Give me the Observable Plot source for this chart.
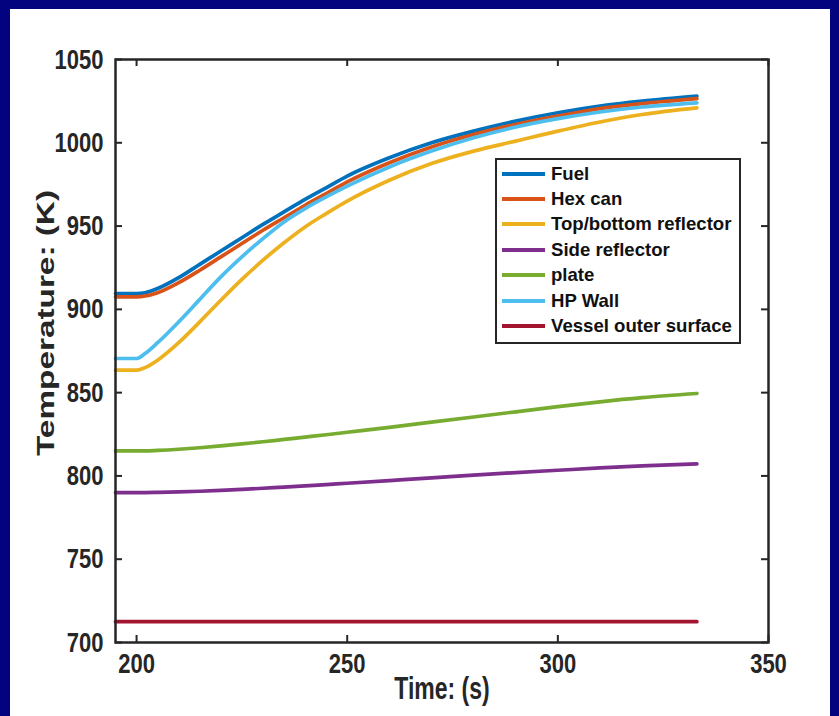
<!DOCTYPE html>
<html><head><meta charset="utf-8">
<script src="https://cdn.jsdelivr.net/npm/d3@7"></script>
<script src="https://cdn.jsdelivr.net/npm/@observablehq/plot@0.6"></script>
<style>
html,body{margin:0;padding:0;background:#03037f;}
#page{position:relative;width:839px;height:716px;background:#03037f;overflow:hidden;font-family:"Liberation Sans",Arial,sans-serif;}
#panel{position:absolute;left:10px;top:9px;width:820px;height:707px;background:#fff;}
#legend{position:absolute;left:495px;top:158px;width:246px;height:186px;box-sizing:border-box;border:2.5px solid #262626;background:#fff;padding-top:1px;}
.row{display:flex;align-items:center;height:25.4px;font-weight:bold;font-size:18.6px;color:#111;white-space:nowrap;}
.sw{width:43px;height:4px;margin-left:5px;margin-right:6px;}
</style></head><body>
<div id="page"><div id="panel"></div><div id="legend"></div></div>
<script>
const time = [195, 200, 202, 205, 210, 215, 220, 225, 230, 235, 240, 245, 250, 260, 270, 280, 290, 300, 310, 320, 333];
const fuel = [909.5, 909.5, 910, 912.5, 919, 927, 935, 943, 951, 958.5, 966, 973, 980, 991, 1000, 1007, 1013, 1018, 1022, 1025, 1028];
const hexCan = [907.5, 907.5, 908, 910, 916, 923.5, 931.5, 939.5, 947.5, 955, 962.5, 969.5, 976.5, 988, 997.5, 1005, 1011, 1016, 1020.5, 1023.5, 1026.5];
const topBottom = [863.5, 863.5, 865, 869.5, 880, 892.5, 905.5, 918, 929.5, 940, 949.5, 957.5, 965, 977.5, 987.5, 995, 1001, 1007, 1012.5, 1017, 1021];
const sideReflector = [790, 790, 790, 790.1, 790.4, 790.8, 791.3, 791.9, 792.6, 793.3, 794, 794.8, 795.6, 797.2, 798.8, 800.5, 802, 803.4, 804.8, 806, 807.2];
const plate = [815, 815, 815, 815.3, 816, 816.9, 818, 819.2, 820.5, 821.9, 823.3, 824.7, 826.2, 829.2, 832.3, 835.4, 838.5, 841.6, 844.5, 847, 849.5];
const hpWall = [870.5, 870.5, 873.5, 880, 892.5, 906, 919.5, 931.5, 942.5, 952.5, 960.5, 967.5, 974, 985.5, 995, 1003, 1009.5, 1014.5, 1018.5, 1021.5, 1024];
const vessel = [712.5, 712.5, 712.5, 712.5, 712.5, 712.5, 712.5, 712.5, 712.5, 712.5, 712.5, 712.5, 712.5, 712.5, 712.5, 712.5, 712.5, 712.5, 712.5, 712.5, 712.5];

const seriesNames = ["Fuel", "Hex can", "Top/bottom reflector", "Side reflector", "plate", "HP Wall", "Vessel outer surface"];
const seriesColors = ["#0072BD", "#D95319", "#EDB120", "#7E2F8E", "#77AC30", "#4DBEEE", "#A2142F"];
const seriesValues = [fuel, hexCan, topBottom, sideReflector, plate, hpWall, vessel];
const xTicks = [200, 250, 300, 350];
const yTicks = [700, 750, 800, 850, 900, 950, 1000, 1050];
const xLabel = "Time: (s)";
const yLabel = "Temperature: (K)";

const rows = [];
seriesNames.forEach((name, i) => {
  time.forEach((t, j) => rows.push({t, v: seriesValues[i][j], s: name}));
});

const W = 820, H = 707, mL = 105, mR = 62, mT = 50, mB = 74;
const fw = W - mL - mR, fh = H - mT - mB, tk = 7;
const ax = "#262626";

const chart = Plot.plot({
  width: W, height: H,
  marginLeft: mL, marginRight: mR, marginTop: mT, marginBottom: mB,
  x: {domain: [195, 350]},
  y: {domain: [700, 1050]},
  color: {domain: seriesNames, range: seriesColors},
  style: {fontFamily: "'Liberation Sans', Arial, sans-serif", fontWeight: "bold", fontSize: "22px", color: ax, background: "transparent", overflow: "visible"},
  marks: [
    Plot.lineY(rows, {x: "t", y: "v", z: "s", stroke: "s", strokeWidth: 3.7, curve: "monotone-x"}),
    Plot.frame({stroke: ax, strokeWidth: 2.5}),
    Plot.ruleX(xTicks, {x: d => d, insetTop: fh - tk, stroke: ax, strokeWidth: 2}),
    Plot.ruleX(xTicks, {x: d => d, insetBottom: fh - tk, stroke: ax, strokeWidth: 2}),
    Plot.ruleY(yTicks, {y: d => d, insetRight: fw - tk, stroke: ax, strokeWidth: 2}),
    Plot.ruleY(yTicks, {y: d => d, insetLeft: fw - tk, stroke: ax, strokeWidth: 2}),
    Plot.axisX(xTicks, {tickSize: 0, tickPadding: 10, label: null, fill: ax, tickFormat: d => String(d)}),
    Plot.axisY(yTicks, {tickSize: 0, tickPadding: 12, label: null, fill: ax, tickFormat: d => String(d)}),
    Plot.text([xLabel], {frameAnchor: "bottom", dy: 56, fontSize: 23, fontWeight: "bold", fill: ax}),
    Plot.text([yLabel], {frameAnchor: "left", textAnchor: "middle", dx: -69, dy: -28, rotate: -90, fontSize: 23, fontWeight: "bold", fill: ax})
  ]
});

// vertical stretch of the axis typography, as in the reference figure
d3.select(chart).selectAll('g[aria-label="x-axis tick label"] text, g[aria-label="y-axis tick label"] text')
  .attr("transform", function() { return (this.getAttribute("transform") || "") + " scale(1,1.28)"; });
d3.select(chart).selectAll('g[aria-label="text"] text')
  .attr("transform", function() {
    const t = this.getAttribute("transform") || "";
    return t + (this.textContent === yLabel ? " scale(1.45,1)" : " scale(1,1.38)");
  });

document.getElementById("panel").appendChild(chart);

const legend = document.getElementById("legend");
seriesNames.forEach((name, i) => {
  const r = document.createElement("div");
  r.className = "row";
  const sw = document.createElement("div");
  sw.className = "sw";
  sw.style.background = seriesColors[i];
  const lab = document.createElement("span");
  lab.textContent = name;
  r.appendChild(sw); r.appendChild(lab);
  legend.appendChild(r);
});
</script>
</body></html>
